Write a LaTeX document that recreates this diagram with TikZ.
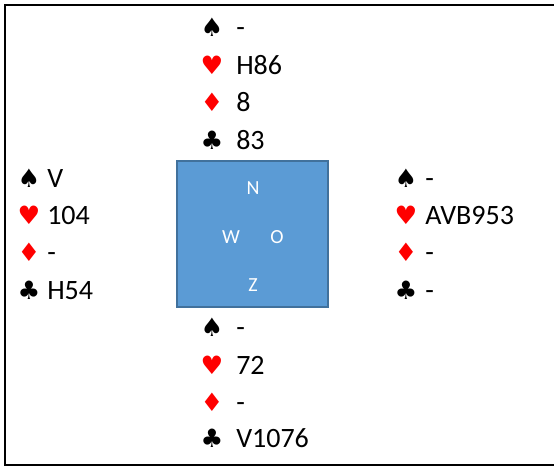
\documentclass[tikz,border=0pt]{standalone}
\usepackage{fontspec}
\setmainfont{Carlito}
\newfontfamily\suitfont{DejaVu Sans}
\usepackage{tikz}
\usetikzlibrary{positioning}
\usepackage{xcolor}
\definecolor{tablefill}{HTML}{5B9BD5}
\definecolor{tableline}{HTML}{41719C}

\tikzset{
  suit/.style={inner sep=0pt, font=\suitfont\fontsize{19}{19}\selectfont},
  redsuit/.style={suit, text=red},
  cards/.style={anchor=west, inner sep=0pt, text height=13.5pt, text depth=0pt, font=\fontsize{21}{25}\selectfont},
  wind/.style={text=white, inner sep=0pt, text height=9.5pt, text depth=0pt, font=\fontsize{15}{16}\selectfont}
}

\begin{document}
\begin{tikzpicture}[x=0.75pt,y=-0.75pt]
				\clip (0,0) rectangle (554,468);
				\draw[line width=1.6pt,black] (5,5) rectangle (560,465);
				% table
				\filldraw[fill=tablefill,draw=tableline,line width=1.5pt] (177,161) rectangle (328,307);
				\node[wind] (N) at (253,188) {N};
				\node[wind] (W) at (231,237) {W};
				\node[wind] (O) at (277,237) {O};
				\node[wind] (Z) at (253,285) {Z};
				% noord
				\node[suit] (nS) at (212,27) {♠};
				\node[cards] (nSc) at (236,27) {-};
				\node[redsuit] (nH) at (212,65) {♥};
				\node[cards] (nHc) at (236,65) {H86};
				\node[redsuit] (nD) at (212,102) {♦};
				\node[cards] (nDc) at (236,102) {8};
				\node[suit] (nC) at (212,140) {♣};
				\node[cards] (nCc) at (236,140) {83};
				% west
				\node[suit] (wS) at (29,178) {♠};
				\node[cards] (wSc) at (47,178) {V};
				\node[redsuit] (wH) at (29,215) {♥};
				\node[cards] (wHc) at (47,215) {104};
				\node[redsuit] (wD) at (29,252) {♦};
				\node[cards] (wDc) at (47,252) {-};
				\node[suit] (wC) at (29,290) {♣};
				\node[cards] (wCc) at (47,290) {H54};
				% oost
				\node[suit] (oS) at (406,178) {♠};
				\node[cards] (oSc) at (425,178) {-};
				\node[redsuit] (oH) at (406,215) {♥};
				\node[cards] (oHc) at (425,215) {AVB953};
				\node[redsuit] (oD) at (406,252) {♦};
				\node[cards] (oDc) at (425,252) {-};
				\node[suit] (oC) at (406,290) {♣};
				\node[cards] (oCc) at (425,290) {-};
				% zuid
				\node[suit] (zS) at (212,327) {♠};
				\node[cards] (zSc) at (236,327) {-};
				\node[redsuit] (zH) at (212,365) {♥};
				\node[cards] (zHc) at (236,365) {72};
				\node[redsuit] (zD) at (212,402) {♦};
				\node[cards] (zDc) at (236,402) {-};
				\node[suit] (zC) at (212,438) {♣};
				\node[cards] (zCc) at (236,438) {V1076};
			\end{tikzpicture}
\end{document}
